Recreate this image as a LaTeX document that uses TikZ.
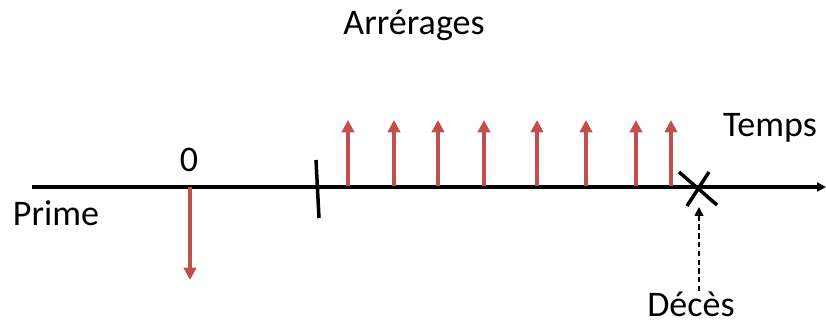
\documentclass[tikz,border=0pt]{standalone}
\usepackage{fontspec}
\setmainfont{Carlito}
\usetikzlibrary{arrows.meta, positioning}
\definecolor{rougeflux}{RGB}{192,80,77}
\tikzstyle{axe} = [line width=2pt, -{Triangle[length=5pt,width=5pt]}]
\tikzstyle{flux} = [line width=2.6pt, draw=rougeflux, -{Triangle[length=7pt,width=7pt]}]
\tikzstyle{trait} = [line width=2pt]
\tikzstyle{pointille} = [line width=0.9pt, dash pattern=on 3pt off 2pt, -{Triangle[length=5pt,width=5pt]}]
\tikzstyle{etiquette} = [font=\fontsize{20.5}{24}\selectfont, inner sep=0pt]

\begin{document}
\begin{tikzpicture}[x=0.02cm, y=-0.02cm]
  \useasboundingbox (0,0) rectangle (826,327);
  % axe du temps
  \coordinate (debut) at (32,187);
  \coordinate (fin) at (826,187);
  \draw[axe] (debut) -- (fin);
  \node[etiquette] (temps) at (770,128) {Temps};
  \node[etiquette] (prime) at (56,213) {Prime};
  \node[etiquette] (zero) at (189,160) {0};
  \node[etiquette] (arrerages) at (414,25) {Arrérages};

  % prime versee a l'origine
  \coordinate (origine) at (190,187);
  \coordinate (bas prime) at (190,280);
  \draw[flux, line width=2.1pt] (origine) -- (bas prime);

  % debut du service des arrerages
  \coordinate (tic haut) at (316,160);
  \coordinate (tic bas) at (319,218);
  \draw[trait] (tic haut) -- (tic bas);

  % arrerages
  \foreach \x/\n in {348/1, 394/2, 438/3, 484/4, 537/5, 586/6, 636/7, 671/8} {
    \coordinate (base\n) at (\x,186);
    \coordinate (pointe\n) at (\x,120);
    \draw[flux] (base\n) -- (pointe\n);
  }

  % deces
  \coordinate (croix) at (698,188);
  \draw[trait] (679,172) -- (717,205);
  \draw[trait] (709,172) -- (687,206);
  \node[etiquette] (deces) at (691,304) {Décès};
  \coordinate (sous croix) at (699,207);
  \draw[pointille] (deces.north -| sous croix) -- (sous croix);
\end{tikzpicture}
\end{document}
